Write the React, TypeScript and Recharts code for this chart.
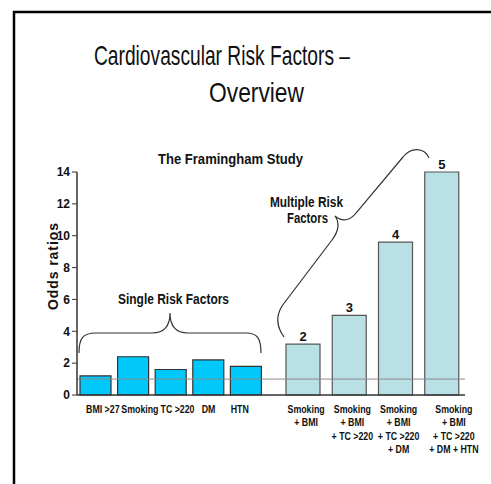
import { Bar, BarChart, LabelList, ReferenceLine, XAxis, YAxis } from 'recharts';

const singleFactors = ['BMI >27', 'Smoking', 'TC >220', 'DM', 'HTN'];
const singleOdds = [1.2, 2.4, 1.6, 2.2, 1.8];

const multiFactors = [
  'Smoking\n+ BMI',
  'Smoking\n+ BMI\n+ TC >220',
  'Smoking\n+ BMI\n+ TC >220\n+ DM',
  'Smoking\n+ BMI\n+ TC >220\n+ DM + HTN',
];
const multiOdds = [3.2, 5.0, 9.6, 14.0];
const factorCounts = [2, 3, 4, 5];

const yTicks = [0, 2, 4, 6, 8, 10, 12, 14];
const refOdds = 1;

const singleData = singleFactors.map((name, i) => ({ name, value: singleOdds[i] }));
const multiData = multiFactors.map((name, i) => ({
  name,
  value: multiOdds[i],
  count: factorCounts[i],
}));

// label nudges to mimic the slide layout
const singleNudge = [7, 6.5, 6.5, 0, -6.5];
const multiNudge = [3, 3, 3, 12];

const FONT = "'Liberation Sans', Arial, sans-serif";
const MARGIN = { top: 172, right: 0, bottom: 59, left: 0 };

function SingleTick(props: any) {
  const { x, y, payload, index } = props;
  return (
    <g transform={`translate(${x + singleNudge[index]},${y})`}>
      <text
        transform="scale(0.8,1)"
        textAnchor="middle"
        dy="0.71em"
        fontFamily={FONT}
        fontWeight="bold"
        fontSize={11}
        fill="#111"
      >
        {payload.value}
      </text>
    </g>
  );
}

function MultiTick(props: any) {
  const { x, y, payload, index } = props;
  const lines = String(payload.value).split('\n');
  return (
    <g transform={`translate(${x + multiNudge[index]},${y})`}>
      <text
        transform="scale(0.8,1)"
        textAnchor="middle"
        fontFamily={FONT}
        fontWeight="bold"
        fontSize={11}
        fill="#111"
      >
        {lines.map((l, i) => (
          <tspan key={i} x={0} dy={i === 0 ? '0.71em' : 13.5}>
            {l}
          </tspan>
        ))}
      </text>
    </g>
  );
}

export default function App() {
  return (
    <div style={{ position: 'absolute', left: 0, top: 0, width: 491, height: 484, background: '#fff', overflow: 'hidden' }}>
      <div style={{ position: 'absolute', left: 0, top: 0 }}>
        <BarChart width={265} height={484} data={singleData} margin={MARGIN} barCategoryGap={0}>
          <XAxis
            dataKey="name"
            interval={0}
            tickLine={false}
            tickMargin={4}
            axisLine={{ stroke: '#333', strokeWidth: 1.5 }}
            tick={SingleTick}
            height={30}
          />
          <YAxis
            width={77}
            domain={[0, 14]}
            ticks={yTicks}
            tickSize={5}
            tickMargin={2}
            axisLine={{ stroke: '#333', strokeWidth: 1.5 }}
            tickLine={{ stroke: '#333' }}
            tick={{ fontFamily: FONT, fontWeight: 'bold', fontSize: 12, fill: '#111' }}
          />
          <Bar dataKey="value" fill="#00C8FA" stroke="#333" strokeWidth={1.2} barSize={31} isAnimationActive={false} />
          <ReferenceLine y={refOdds} stroke="#8a8a8a" strokeWidth={1} />
        </BarChart>
      </div>
      <div style={{ position: 'absolute', left: 265, top: 0 }}>
        <BarChart width={226} height={484} data={multiData} margin={{ ...MARGIN, right: 26 }} barCategoryGap={0}>
          <XAxis
            dataKey="name"
            interval={0}
            tickLine={false}
            tickMargin={4}
            padding={{ left: 15, right: 0 }}
            axisLine={{ stroke: '#333', strokeWidth: 1.5 }}
            tick={MultiTick}
            height={30}
          />
          <YAxis hide domain={[0, 14]} ticks={yTicks} />
          <Bar dataKey="value" fill="#B9E0E4" stroke="#555" strokeWidth={1.2} barSize={34} isAnimationActive={false}>
            <LabelList
              dataKey="count"
              position="top"
              offset={3}
              style={{ fontFamily: FONT, fontWeight: 'bold', fontSize: 13, fill: '#111' }}
            />
          </Bar>
          <ReferenceLine y={refOdds} stroke="#8a8a8a" strokeWidth={1} />
        </BarChart>
      </div>
      <svg width={491} height={484} style={{ position: 'absolute', left: 0, top: 0, pointerEvents: 'none' }}>
        <rect x={14} y={12} width={500} height={500} fill="none" stroke="#000" strokeWidth={2.5} />
        <g fontFamily={FONT} fill="#111">
          <text x={94} y={65} fontSize={28} textLength={256} lengthAdjust="spacingAndGlyphs">
            Cardiovascular Risk Factors –
          </text>
          <text x={209} y={102} fontSize={28} textLength={95} lengthAdjust="spacingAndGlyphs">
            Overview
          </text>
          <text x={158} y={164} fontSize={15} fontWeight="bold" textLength={145} lengthAdjust="spacingAndGlyphs">
            The Framingham Study
          </text>
          <text x={118} y={304} fontSize={15} fontWeight="bold" textLength={111} lengthAdjust="spacingAndGlyphs">
            Single Risk Factors
          </text>
          <text x={270} y={207} fontSize={14} fontWeight="bold" textLength={73} lengthAdjust="spacingAndGlyphs">
            Multiple Risk
          </text>
          <text x={287} y={223} fontSize={14} fontWeight="bold" textLength={41} lengthAdjust="spacingAndGlyphs">
            Factors
          </text>
          <text
            transform="translate(58,267) rotate(-90)"
            x={-43}
            y={0}
            fontSize={14}
            fontWeight="bold"
            textLength={87}
            lengthAdjust="spacing"
          >
            Odds ratios
          </text>
        </g>
        <g fill="none" stroke="#333" strokeWidth={1.2}>
          <path d="M79 353 C79 338 83 333 96 333 L152 333 C164 333 170 326 170 313 C170 326 176 333 188 333 L246 333 C257 333 261 338 261 353" />
          <path d="M284 337 C276 326 276 316 282 306 L332 240 C338 232 340 223 335 216 C342 222 350 221 356 213 L403 157 C411 147 424 147 429 158" />
        </g>
      </svg>
    </div>
  );
}
